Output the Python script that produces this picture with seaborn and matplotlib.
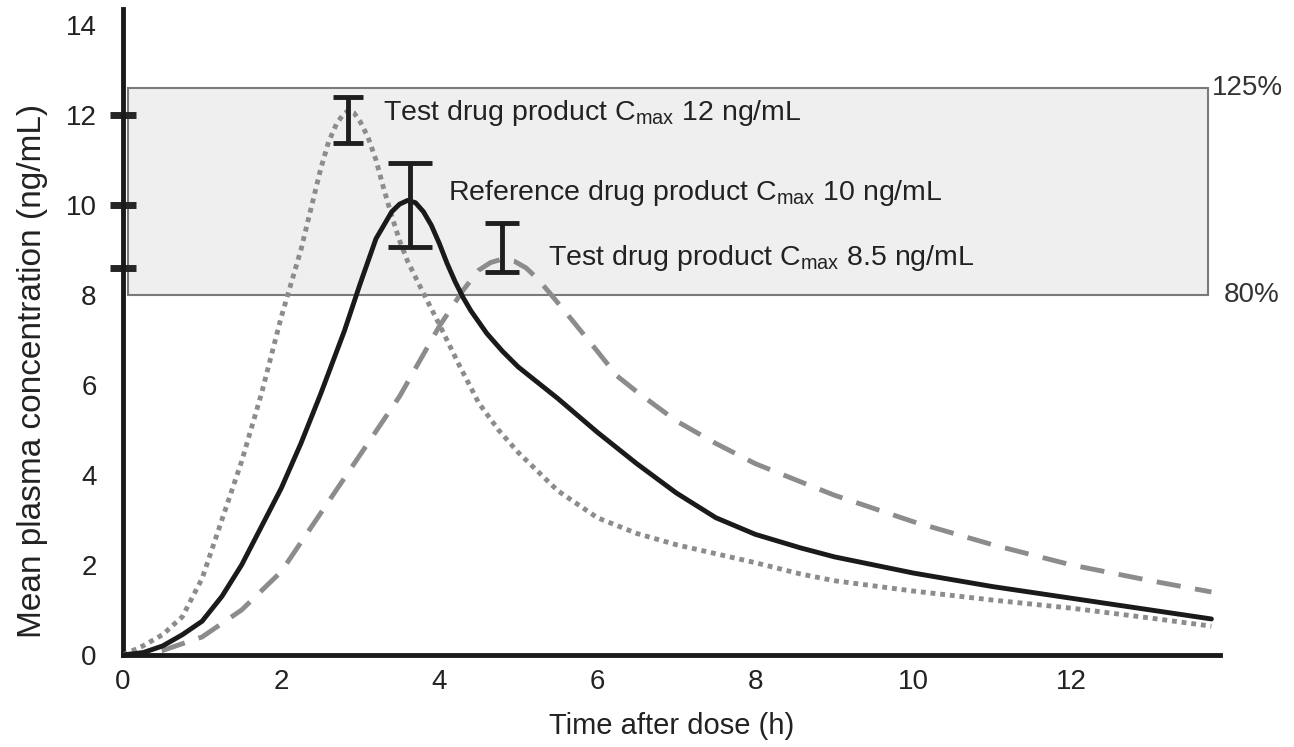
import matplotlib
matplotlib.use('Agg')
import matplotlib.pyplot as plt
import pandas as pd
import seaborn as sns
from matplotlib.patches import Rectangle

# Curvas: tempo (h) e concentração média (ng/mL)
ref_time = [0, 0.25, 0.5, 0.75, 1.0, 1.25, 1.5, 1.75, 2.0, 2.25, 2.5, 2.8, 3.0, 3.2, 3.4, 3.5,
            3.6, 3.7, 3.8, 3.9, 4.0, 4.1, 4.2, 4.3, 4.4, 4.6, 4.8, 5.0, 5.5, 6.0, 6.5, 7.0, 7.5,
            8.0, 8.57, 9.0, 10.0, 11.0, 12.0, 13.0, 13.77]
ref_conc = [0, 0.05, 0.2, 0.45, 0.75, 1.3, 2.0, 2.85, 3.7, 4.7, 5.8, 7.2, 8.25, 9.25, 9.85, 10.02,
            10.1, 10.05, 9.85, 9.55, 9.15, 8.7, 8.3, 7.95, 7.65, 7.15, 6.75, 6.4, 5.7, 4.95, 4.25, 3.6, 3.05,
            2.68, 2.38, 2.18, 1.82, 1.52, 1.26, 1.0, 0.8]

t12_time = [0, 0.25, 0.5, 0.75, 1.0, 1.25, 1.5, 1.75, 2.0, 2.25, 2.5, 2.6, 2.7, 2.78, 2.85, 2.92,
            3.0, 3.1, 3.2, 3.3, 3.4, 3.5, 3.6, 3.8, 4.0, 4.25, 4.5, 4.75, 5.0, 5.5, 6.0, 6.5, 7.0,
            7.5, 8.0, 8.57, 9.0, 10.0, 11.0, 12.0, 13.0, 13.77]
t12_conc = [0, 0.2, 0.45, 0.85, 1.7, 3.0, 4.3, 5.8, 7.5, 9.0, 10.8, 11.4, 11.8, 12.0, 12.1, 12.05,
            11.85, 11.5, 11.0, 10.35, 9.75, 9.2, 8.75, 8.04, 7.35, 6.45, 5.6, 5.0, 4.5, 3.65, 3.05, 2.7,
            2.45, 2.25, 2.05, 1.8, 1.65, 1.42, 1.22, 1.04, 0.82, 0.64]

t85_time = [0, 0.5, 1.0, 1.5, 2.0, 2.5, 3.0, 3.5, 4.0, 4.3, 4.5, 4.65, 4.8, 4.95, 5.1, 5.25, 5.4,
            5.7, 6.0, 6.25, 6.5, 7.0, 7.5, 8.0, 8.57, 9.0, 10.0, 11.0, 12.0, 13.0, 13.77]
t85_conc = [0, 0.1, 0.4, 1.0, 1.85, 3.15, 4.45, 5.75, 7.3, 8.1, 8.55, 8.72, 8.8, 8.75, 8.6, 8.35,
            8.04, 7.4, 6.75, 6.2, 5.85, 5.2, 4.7, 4.25, 3.85, 3.55, 2.96, 2.45, 2.0, 1.65, 1.4]

# Barras de Cmax (posição, limite inferior e superior)
bar_time = [2.84, 3.63, 4.8]
bar_low = [11.38, 9.07, 8.5]
bar_high = [12.4, 10.93, 9.6]
bar_cap = [11, 16, 12]

bar_labels = ['Test drug product C$_{\\mathrm{max}}$ 12 ng/mL',
              'Reference drug product C$_{\\mathrm{max}}$ 10 ng/mL',
              'Test drug product C$_{\\mathrm{max}}$ 8.5 ng/mL']
label_x = [3.29, 4.11, 5.38]
label_y = [12.05, 10.27, 8.83]

# Faixa de bioequivalência 80%-125% da referência
band_low = 8.0
band_high = 12.6
band_start = 0.06
band_end = 13.73

# Marcas no eixo y (Cmax de cada produto)
mark_levels = [12, 10, 8.6]
mark_colors = ['#8a8a8a', '#1a1a1a', '#8a8a8a']

x_ticks = [0, 2, 4, 6, 8, 10, 12]
y_ticks = [0, 2, 4, 6, 8, 10, 12, 14]

sns.set_theme(style='white')
plt.rcParams['font.family'] = ['Liberation Sans', 'DejaVu Sans']
plt.rcParams['mathtext.fontset'] = 'custom'
plt.rcParams['mathtext.rm'] = 'Liberation Sans'

fig = plt.figure(figsize=(12.94, 7.47), dpi=100)
ax = fig.add_axes([0.0951, 0.1232, 0.8478, 0.8645])

# Faixa cinza
ax.add_patch(Rectangle((band_start, band_low), band_end - band_start, band_high - band_low,
                       facecolor='#efefef', edgecolor='#7a7a7a', linewidth=1.5, zorder=0))

df_ref = pd.DataFrame({'time': ref_time, 'conc': ref_conc})
df_t12 = pd.DataFrame({'time': t12_time, 'conc': t12_conc})
df_t85 = pd.DataFrame({'time': t85_time, 'conc': t85_conc})

sns.lineplot(data=df_t85, x='time', y='conc', ax=ax, color='#8c8c8c', linewidth=3.5,
             sort=False, zorder=2)
ax.lines[-1].set_dashes((5, 3))
sns.lineplot(data=df_t12, x='time', y='conc', ax=ax, color='#8c8c8c', linewidth=3.5,
             sort=False, zorder=3)
ax.lines[-1].set_dashes((1, 1))
sns.lineplot(data=df_ref, x='time', y='conc', ax=ax, color='#1a1a1a', linewidth=3.5,
             sort=False, zorder=4)

# Barras de erro
for xt, lo, hi, cap in zip(bar_time, bar_low, bar_high, bar_cap):
    mid = (lo + hi) / 2
    ax.errorbar([xt], [mid], yerr=[[mid - lo], [hi - mid]], fmt='none', ecolor='#1e1e1e',
                elinewidth=3.5, capsize=cap, capthick=3.5, zorder=5)

for txt, xl, yl in zip(bar_labels, label_x, label_y):
    ax.text(xl, yl, txt, fontsize=20.5, color='#222222', va='center', ha='left', zorder=6)

ax.text(band_end + 0.05, band_high, '125%', fontsize=20, color='#333333', va='center', ha='left',
        clip_on=False)
ax.text(band_end + 0.19, band_low, '80%', fontsize=20, color='#333333', va='center', ha='left',
        clip_on=False)

ax.set_xlim(0, 13.88)
ax.set_ylim(0, 14.35)
ax.set_xticks(x_ticks)
ax.set_yticks(y_ticks)
ax.yaxis.remove_overlapping_locs = False
ax.set_yticks(mark_levels, minor=True)
ax.tick_params(axis='both', which='major', length=0, labelsize=20, colors='#222222')
ax.tick_params(axis='y', which='major', pad=19)
ax.tick_params(axis='x', which='major', pad=10)
ax.tick_params(axis='y', which='minor', left=True, direction='inout', length=19, width=5)
for tick, col in zip(ax.yaxis.get_minor_ticks(), mark_colors):
    tick.tick1line.set_color(col)
    tick.tick1line.set_zorder(7)

ax.set_xlabel('Time after dose (h)', fontsize=21, color='#222222', labelpad=12)
ax.set_ylabel('Mean plasma concentration (ng/mL)', fontsize=24, color='#222222')
ax.yaxis.set_label_coords(-0.068, 0.44)

sns.despine(ax=ax)
for side in ['left', 'bottom']:
    ax.spines[side].set_linewidth(3.5)
    ax.spines[side].set_color('#1a1a1a')
ax.grid(False)

fig.savefig('out.png', dpi=100)
